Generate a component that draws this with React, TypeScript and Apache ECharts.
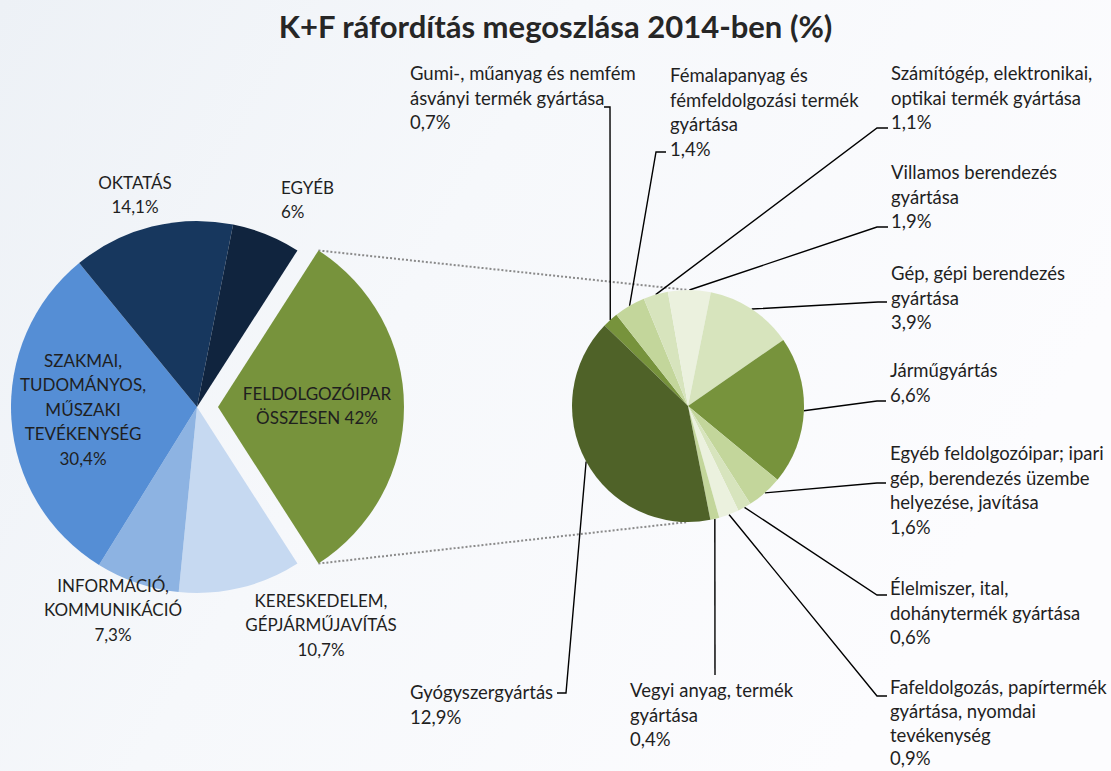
import React, { useEffect, useRef } from 'react';
import * as echarts from 'echarts';

// ---------- data ----------
const titleText = 'K+F ráfordítás megoszlása 2014-ben (%)';

const leftNames = [
  'FELDOLGOZÓIPAR\nÖSSZESEN',
  'KERESKEDELEM,\nGÉPJÁRMŰJAVÍTÁS',
  'INFORMÁCIÓ,\nKOMMUNIKÁCIÓ',
  'SZAKMAI,\nTUDOMÁNYOS,\nMŰSZAKI\nTEVÉKENYSÉG',
  'OKTATÁS',
  'EGYÉB',
];
const leftPercents = [42, 10.7, 7.3, 30.4, 14.1, 6];
const leftColors = ['#77933c', '#c6d9f1', '#8db3e2', '#558ed5', '#17375e', '#10243e'];

const rightNames = [
  'Gumi-, műanyag és nemfém\násványi termék gyártása',
  'Fémalapanyag és\nfémfeldolgozási termék\ngyártása',
  'Számítógép, elektronikai,\noptikai termék gyártása',
  'Villamos berendezés\ngyártása',
  'Gép, gépi berendezés\ngyártása',
  'Járműgyártás',
  'Egyéb feldolgozóipar; ipari\ngép, berendezés üzembe\nhelyezése, javítása',
  'Élelmiszer, ital,\ndohánytermék gyártása',
  'Fafeldolgozás, papírtermék\ngyártása, nyomdai\ntevékenység',
  'Vegyi anyag, termék\ngyártása',
  'Gyógyszergyártás',
];
const rightValues = [0.7, 1.4, 1.1, 1.9, 3.9, 6.6, 1.6, 0.6, 0.9, 0.4, 12.9];
const rightColors = [
  '#77933c', '#c3d69b', '#d7e4bd', '#ebf1de', '#d7e4bd', '#77933c',
  '#c3d69b', '#d7e4bd', '#ebf1de', '#c3d69b', '#4f6228',
];

// ---------- layout ----------
const W = 1111;
const H = 771;
const FONT = 'Lato, "Noto Sans", sans-serif';
const TEXT = '#1f1f1f';
const LINE_H = 24.5;
const L = { cx: 197, cy: 407, r: 186, offset: 21 };
const R = { cx: 688, cy: 406, r: 116, startAngle: 136 };

const leftLabelPos: { x: number; y: number; align: string }[] = [
  { x: 317, y: 381, align: 'center' },
  { x: 321, y: 588, align: 'center' },
  { x: 113, y: 573, align: 'center' },
  { x: 83, y: 348, align: 'center' },
  { x: 135, y: 170, align: 'center' },
  { x: 281, y: 175, align: 'left' },
];

const rightLabelPos: { x: number; y: number; bend: number[]; end: number[]; lh?: number }[] = [
  { x: 410, y: 61, bend: [610, 107], end: [604, 107] },
  { x: 670, y: 63, bend: [656, 152], end: [666, 152] },
  { x: 891, y: 61, bend: [877, 128], end: [888, 128] },
  { x: 891, y: 160, bend: [877, 227], end: [888, 227] },
  { x: 891, y: 261, bend: [878, 302], end: [887, 302] },
  { x: 890, y: 358, bend: [877, 401], end: [886, 401] },
  { x: 890, y: 441, bend: [877, 483], end: [886, 483] },
  { x: 890, y: 576, bend: [877, 595], end: [887, 595] },
  { x: 890, y: 675, bend: [877, 696], end: [887, 696], lh: 23.8 },
  { x: 630, y: 678, bend: [715, 675], end: [715, 675] },
  { x: 410, y: 680, bend: [566, 693], end: [557, 693] },
];

const fmt = (v: number) => String(v).replace('.', ',') + '%';

export default function App() {
  const ref = useRef<HTMLDivElement>(null);

  useEffect(() => {
    if (!ref.current) return;
    const chart = echarts.init(ref.current, undefined, { renderer: 'svg' });

    const manufacturingTotal = rightValues.reduce((a, b) => a + b, 0);
    const leftSliceValues = leftPercents.map((v, i) => (i === 0 ? manufacturingTotal : v));
    const leftTotal = leftSliceValues.reduce((a, b) => a + b, 0);
    const restTotal = leftTotal - leftSliceValues[0];
    const halfAngle = (180 * leftSliceValues[0]) / leftTotal;
    const halfRad = (halfAngle * Math.PI) / 180;

    // connector corners from the exploded slice to the second pie
    const cornerX = L.cx + L.offset + L.r * Math.cos(halfRad);
    const cornerTopY = L.cy - L.r * Math.sin(halfRad);
    const cornerBotY = L.cy + L.r * Math.sin(halfRad);

    const rightTotal = manufacturingTotal;
    const rightStart = (i: number) => {
      let acc = 0;
      for (let k = 0; k < i; k++) acc += rightValues[k];
      const mid = R.startAngle - ((acc + rightValues[i] / 2) / rightTotal) * 360;
      const rad = (mid * Math.PI) / 180;
      return [R.cx + R.r * Math.cos(rad), R.cy - R.r * Math.sin(rad)];
    };

    const hidden = {
      itemStyle: { color: 'rgba(0,0,0,0)' },
      label: { show: false },
    };

    // main left pie (manufacturing slot left empty)
    const leftData = leftSliceValues.map((v, i) =>
      i === 0
        ? { value: v, name: 'placeholder', ...hidden }
        : {
            value: v,
            name: leftNames[i],
            itemStyle: { color: leftColors[i] },
            label: { formatter: leftNames[i] + '\n' + fmt(leftPercents[i]) },
          }
    );

    // exploded manufacturing slice
    const explodedData = [
      {
        value: leftSliceValues[0],
        name: leftNames[0],
        itemStyle: { color: leftColors[0] },
        label: { formatter: leftNames[0] + ' ' + fmt(leftPercents[0]) },
      },
      { value: restTotal, name: 'rest', ...hidden },
    ];

    const rightData = rightValues.map((v, i) => {
      const item: any = {
        value: v,
        name: rightNames[i],
        itemStyle: { color: rightColors[i] },
        label: { formatter: rightNames[i] + '\n' + fmt(v) },
      };
      if (rightLabelPos[i].lh) item.label.lineHeight = rightLabelPos[i].lh;
      return item;
    });

    const dotted = {
      stroke: '#8a8a8a',
      lineWidth: 2,
      lineDash: [2, 2],
    };

    const leftLabel = {
      show: true,
      position: 'outside',
      fontFamily: FONT,
      fontSize: 17,
      lineHeight: LINE_H,
      color: TEXT,
      overflow: 'none',
      width: 320,
    };
    const leftLayout = (p: any) => {
      const pos = leftLabelPos[p.dataIndex];
      return { x: pos.x, y: pos.y, align: pos.align, verticalAlign: 'top' };
    };

    chart.setOption({
      animation: false,
      backgroundColor: {
        type: 'linear',
        x: 0,
        y: 0,
        x2: 1,
        y2: 0.4,
        colorStops: [
          { offset: 0, color: '#edf1f6' },
          { offset: 0.45, color: '#f6f8fb' },
          { offset: 1, color: '#fcfcfe' },
        ],
      },
      title: {
        text: titleText,
        left: 'center',
        top: 5,
        textStyle: {
          fontFamily: FONT,
          fontSize: 31,
          fontWeight: 'bold',
          color: '#262626',
        },
      },
      graphic: [
        {
          type: 'line',
          z: 0,
          shape: { x1: cornerX, y1: cornerTopY, x2: R.cx, y2: R.cy - R.r },
          style: dotted,
        },
        {
          type: 'line',
          z: 0,
          shape: { x1: cornerX, y1: cornerBotY, x2: R.cx, y2: R.cy + R.r },
          style: dotted,
        },
      ],
      series: [
        {
          type: 'pie',
          z: 3,
          center: [L.cx, L.cy],
          radius: L.r,
          startAngle: halfAngle,
          clockwise: true,
          avoidLabelOverlap: false,
          emphasis: { disabled: true },
          itemStyle: { borderWidth: 0 },
          label: leftLabel,
          labelLine: { show: false },
          labelLayout: leftLayout,
          data: leftData,
        },
        {
          type: 'pie',
          z: 3,
          center: [L.cx + L.offset, L.cy],
          radius: L.r,
          startAngle: halfAngle,
          clockwise: true,
          avoidLabelOverlap: false,
          emphasis: { disabled: true },
          itemStyle: { borderWidth: 0 },
          label: leftLabel,
          labelLine: { show: false },
          labelLayout: leftLayout,
          data: explodedData,
        },
        {
          type: 'pie',
          z: 3,
          center: [R.cx, R.cy],
          radius: R.r,
          startAngle: R.startAngle,
          clockwise: true,
          avoidLabelOverlap: false,
          emphasis: { disabled: true },
          itemStyle: { borderWidth: 0 },
          label: {
            show: true,
            position: 'outside',
            fontFamily: FONT,
            fontSize: 18.5,
            lineHeight: LINE_H,
            color: TEXT,
            align: 'left',
            overflow: 'none',
            width: 320,
          },
          labelLine: {
            show: true,
            length: 10,
            length2: 10,
            lineStyle: { color: '#000', width: 1.4 },
          },
          labelLayout: (p: any) => {
            const pos = rightLabelPos[p.dataIndex];
            const start =
              p.labelLinePoints && p.labelLinePoints[0]
                ? p.labelLinePoints[0]
                : rightStart(p.dataIndex);
            return {
              x: pos.x,
              y: pos.y,
              align: 'left',
              verticalAlign: 'top',
              labelLinePoints: [start, pos.bend, pos.end],
            };
          },
          data: rightData,
        },
      ],
    });

    return () => chart.dispose();
  }, []);

  return (
    <div
      ref={ref}
      style={{ position: 'absolute', left: 0, top: 0, width: W, height: H }}
    />
  );
}
